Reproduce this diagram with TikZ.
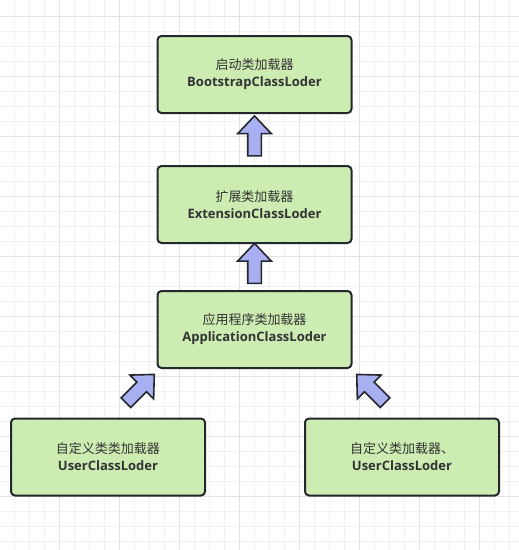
\documentclass[tikz,border=0pt]{standalone}
\usepackage{fontspec}
\usepackage{xcolor}
\usepackage{tikz}
\usetikzlibrary{shapes.arrows,calc}
\newfontfamily\cjkfont{Noto Sans CJK SC}
\newfontfamily\latinfont{Open Sans}
\definecolor{loaderfill}{RGB}{204,236,178}
\definecolor{loaderline}{RGB}{35,39,46}
\definecolor{arrowfill}{RGB}{168,176,242}
\definecolor{gridminor}{RGB}{240,240,240}
\definecolor{gridmajor}{RGB}{226,226,226}
\tikzset{loadernode/.style={draw=loaderline,line width=2pt,fill=loaderfill,rounded corners=4pt,
		minimum width=194pt,minimum height=77pt,align=center,text=black!80,
		font=\fontsize{13}{17}\selectfont},
	uparrow/.style={single arrow,draw=loaderline,line width=1.6pt,fill=arrowfill,
		minimum height=40pt,minimum width=32pt,single arrow head extend=10pt,
		inner xsep=0pt,inner ysep=6pt,single arrow tip angle=87}}
\newcommand{\loadertext}[2]{{\cjkfont #1}\\{\latinfont\bfseries #2}}

\begin{document}
\begin{tikzpicture}[x=1pt,y=1pt]
		\useasboundingbox (0,0) rectangle (519,-550);
		\fill[white] (0,0) rectangle (519,-550);
		%
		\foreach \i in {0,...,33}
			{\pgfmathtruncatemacro{\maj}{mod(\i,4)==3}
			\ifnum\maj=1 \def\gc{gridmajor}\else\def\gc{gridminor}\fi
			\draw[\gc,line width=1pt] (14.7+15*\i,0) -- (14.7+15*\i,-550);}
		\foreach \j in {0,...,35}
			{\pgfmathtruncatemacro{\maj}{mod(\j,4)==0}
			\ifnum\maj=1 \def\gc{gridmajor}\else\def\gc{gridminor}\fi
			\draw[\gc,line width=1pt] (0,-16-15*\j) -- (519,-16-15*\j);}
		%
		\node[loadernode] (boot) at (254.5,-74.5) {\loadertext{启动类加载器}{BootstrapClassLoder}};
		\node[loadernode] (ext) at (254.5,-204.5) {\loadertext{扩展类加载器}{ExtensionClassLoder}};
		\node[loadernode] (app) at (254.5,-329.5) {\loadertext{应用程序类加载器}{ApplicationClassLoder}};
		\node[loadernode] (user1) at (108,-457) {\loadertext{自定义类类加载器}{UserClassLoder}};
		\node[loadernode] (user2) at (402,-457) {\loadertext{自定义类加载器、}{UserClassLoder}};
		%
		\node[uparrow,rotate=90] (ext2boot) at ($(ext.north)!0.5!(boot.south)$) {};
		\node[uparrow,rotate=90] (app2ext) at ($(app.north)!0.5!(ext.south)$) {};
		\node[uparrow,rotate=45] (user12app) at (137.6,-391.1) {};
		\node[uparrow,rotate=135] (user22app) at (373.4,-391.1) {};
	\end{tikzpicture}
\end{document}
